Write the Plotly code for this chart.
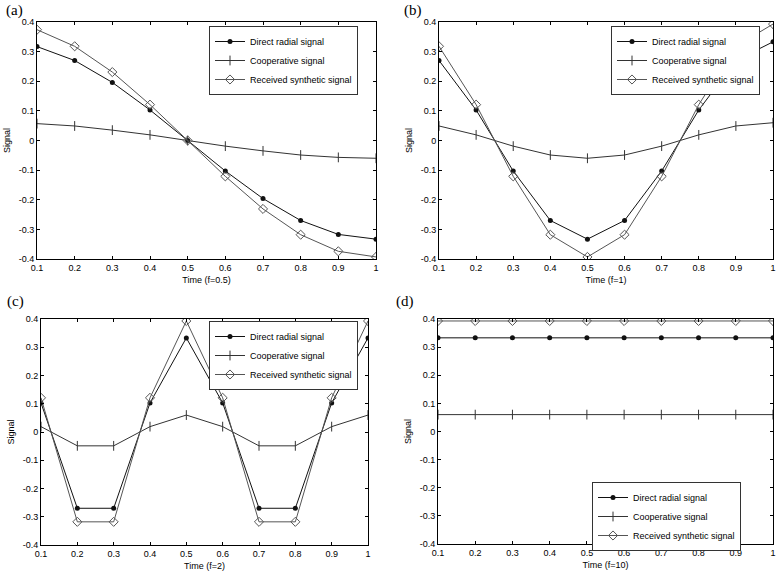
import plotly.graph_objects as go

W, H = 778, 575

time_s = [0.1, 0.2, 0.3, 0.4, 0.5, 0.6, 0.7, 0.8, 0.9, 1.0]
series_names = ["Direct radial signal", "Cooperative signal", "Received synthetic signal"]

# (a) f=0.5
direct_a = [0.317, 0.270, 0.196, 0.103, 0.000, -0.103, -0.196, -0.270, -0.317, -0.333]
coop_a = [0.057, 0.049, 0.035, 0.019, 0.000, -0.019, -0.035, -0.049, -0.057, -0.060]
recv_a = [0.374, 0.318, 0.231, 0.121, 0.000, -0.121, -0.231, -0.318, -0.374, -0.393]
# (b) f=1
direct_b = [0.270, 0.103, -0.103, -0.270, -0.333, -0.270, -0.103, 0.103, 0.270, 0.333]
coop_b = [0.049, 0.019, -0.019, -0.049, -0.060, -0.049, -0.019, 0.019, 0.049, 0.060]
recv_b = [0.318, 0.121, -0.121, -0.318, -0.393, -0.318, -0.121, 0.121, 0.318, 0.393]
# (c) f=2
direct_c = [0.103, -0.270, -0.270, 0.103, 0.333, 0.103, -0.270, -0.270, 0.103, 0.333]
coop_c = [0.019, -0.049, -0.049, 0.019, 0.060, 0.019, -0.049, -0.049, 0.019, 0.060]
recv_c = [0.121, -0.318, -0.318, 0.121, 0.393, 0.121, -0.318, -0.318, 0.121, 0.393]
# (d) f=10
direct_d = [0.333] * 10
coop_d = [0.060] * 10
recv_d = [0.393] * 10

panel_labels = ["(a)", "(b)", "(c)", "(d)"]
x_titles = ["Time (f=0.5)", "Time (f=1)", "Time (f=2)", "Time (f=10)"]
x_ticks = [0.1, 0.2, 0.3, 0.4, 0.5, 0.6, 0.7, 0.8, 0.9, 1.0]
x_ticktext = ["0.1", "0.2", "0.3", "0.4", "0.5", "0.6", "0.7", "0.8", "0.9", "1"]
y_ticks = [-0.4, -0.3, -0.2, -0.1, 0, 0.1, 0.2, 0.3, 0.4]
y_ticktext = ["-0.4", "-0.3", "-0.2", "-0.1", "0", "0.1", "0.2", "0.3", "0.4"]

panels = [
    (direct_a, coop_a, recv_a),
    (direct_b, coop_b, recv_b),
    (direct_c, coop_c, recv_c),
    (direct_d, coop_d, recv_d),
]

# plot-area boxes in pixels: left, right, top, bottom
boxes = [(37, 376, 22, 259), (439, 773, 22, 259), (41, 368, 319, 545), (438, 773, 319, 544)]
# legend top-left positions in pixels
legend_pos = [(209, 26), (611, 26), (209, 321), (592, 482)]
label_pos = [(14, 11), (413, 11), (15, 301), (405, 301)]

FONT = "Liberation Sans, Arial, sans-serif"

fig = go.Figure()
line_colors = ["#111111", "#333333", "#555555"]
marker_styles = [
    dict(symbol="circle", size=5, color="#111111"),
    dict(symbol="line-ns", size=7, color="#333333", line=dict(width=1, color="#333333")),
    dict(symbol="diamond-open", size=7, color="#555555", line=dict(width=1, color="#555555")),
]

for i, (vals, box) in enumerate(zip(panels, boxes)):
    ax = "" if i == 0 else str(i + 1)
    lg = "legend" if i == 0 else "legend%d" % (i + 1)
    for j, ys in enumerate(vals):
        fig.add_trace(go.Scatter(
            x=time_s, y=ys, mode="lines+markers", name=series_names[j],
            line=dict(color=line_colors[j], width=1),
            marker=marker_styles[j],
            xaxis="x" + ax, yaxis="y" + ax, legend=lg, cliponaxis=True,
        ))
    l, r, t, b = box
    common = dict(showline=True, mirror="ticks", linecolor="black", linewidth=1,
                  ticks="inside", ticklen=3, tickcolor="black", showgrid=False,
                  zeroline=False, automargin=False,
                  tickfont=dict(family=FONT, size=9, color="black"))
    fig.layout["xaxis" + ax] = dict(
        domain=[l / W, r / W], range=[0.1, 1.0], anchor="y" + ax,
        tickvals=x_ticks, ticktext=x_ticktext,
        title=dict(text=x_titles[i], font=dict(family=FONT, size=9, color="black"), standoff=4),
        **common)
    fig.layout["yaxis" + ax] = dict(
        domain=[1 - b / H, 1 - t / H], range=[-0.4, 0.4], anchor="x" + ax,
        tickvals=y_ticks, ticktext=y_ticktext,
        title=dict(text="Signal", font=dict(family=FONT, size=9, color="black"), standoff=6),
        **common)
    lx, ly = legend_pos[i]
    fig.layout[lg] = dict(
        x=lx / W, y=1 - ly / H, xanchor="left", yanchor="top",
        xref="paper", yref="paper",
        bgcolor="white", bordercolor="#333333", borderwidth=1,
        font=dict(family=FONT, size=9, color="black"),
        itemclick=False, itemdoubleclick=False,
    )
    px, py = label_pos[i]
    fig.add_annotation(text=panel_labels[i], x=px / W, y=1 - py / H, xref="paper", yref="paper",
                       showarrow=False, xanchor="center", yanchor="middle",
                       font=dict(family="Liberation Serif, Times New Roman, serif", size=15, color="black"))

fig.update_layout(
    width=W, height=H, margin=dict(l=0, r=0, t=0, b=0, autoexpand=False),
    paper_bgcolor="white", plot_bgcolor="white", showlegend=True,
)

fig.write_html("out.html", config={"displayModeBar": False},
               post_script="document.body.style.margin='0';document.body.style.padding='0';")
